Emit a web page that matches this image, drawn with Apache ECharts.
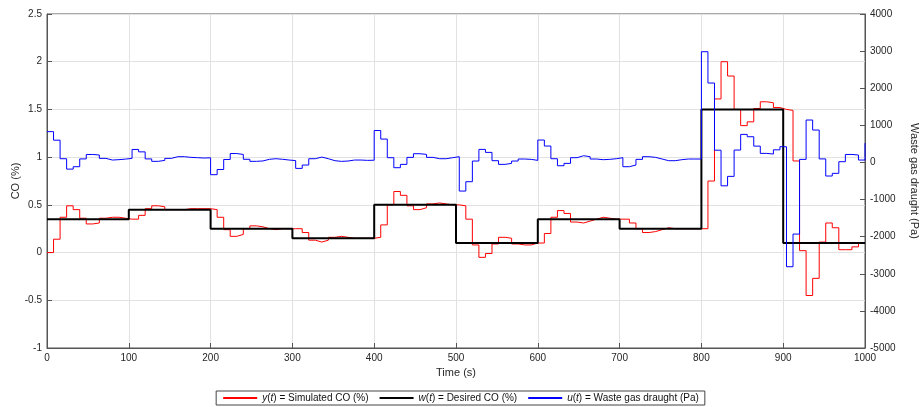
<!DOCTYPE html>
<html>
<head>
<meta charset="utf-8">
<script src="https://cdn.jsdelivr.net/npm/echarts@6/dist/echarts.min.js"></script>
<style>
  body { margin: 0; background: #fff; }
  #chart { width: 921px; height: 407px; }
</style>
</head>
<body>
<div id="chart"></div>
<script>
// sample time of the simulation (s)
var sampleTime = 8

// y(t) simulated CO (%), one value per sample, last one at t = 1000
var coSim = [
  0.00, 0.14, 0.37, 0.49, 0.45, 0.36, 0.30, 0.31, 0.36, 0.37, 0.37, 0.36, 0.35, 0.35, 0.39, 0.46, 0.49, 0.48, 0.45, 0.45, 0.45, 0.46, 0.46, 0.46, 0.46,
  0.45, 0.37, 0.24, 0.17, 0.19, 0.25, 0.28, 0.27, 0.25, 0.24, 0.25, 0.25, 0.25, 0.25, 0.21, 0.13, 0.11, 0.13, 0.16, 0.17, 0.16, 0.15, 0.15, 0.15, 0.15,
  0.16, 0.29, 0.50, 0.64, 0.60, 0.49, 0.45, 0.47, 0.51, 0.52, 0.51, 0.50, 0.50, 0.49, 0.35, 0.08, -0.05, -0.01, 0.09, 0.16, 0.15, 0.09, 0.08, 0.08, 0.10,
  0.10, 0.20, 0.37, 0.44, 0.41, 0.32, 0.31, 0.33, 0.35, 0.37, 0.36, 0.35, 0.35, 0.35, 0.31, 0.25, 0.21, 0.22, 0.24, 0.26, 0.25, 0.25, 0.25, 0.25, 0.25,
  0.25, 0.75, 1.61, 2.00, 1.85, 1.50, 1.33, 1.37, 1.51, 1.58, 1.57, 1.52, 1.50, 1.49, 0.96, 0.02, -0.45, -0.27, 0.11, 0.31, 0.26, 0.03, 0.03, 0.06, 0.10,
  0.10
]

// u(t) waste gas draught (Pa)
var draught = [
  830, 600, 100, -180, -115, 95, 215, 200, 110, 65, 75, 90, 110, 350, 285, 95, 30, 55, 110, 155, 155, 137, 128, 119, 125,
  -330, -190, 80, 240, 215, 85, 30, 40, 85, 100, 85, 65, 50, -160, -70, 100, 145, 100, 47, 29, 38, 65, 65, 56, 60,
  860, 630, 128, -142, -52, 137, 235, 217, 137, 100, 100, 128, 155, -771, -519, 38, 352, 271, 47, -52, -25, 38, 92, 83, 56,
  604, 442, 100, -89, -25, 128, 181, 155, 92, 74, 83, 100, 128, -115, -70, 83, 155, 137, 92, 47, 47, 74, 92, 92, 92,
  2984, 2140, 330, -630, -375, 334, 756, 693, 440, 244, 226, 340, 424, -2810, -1930, 83, 1143, 873, 95, -366, -294, 20, 215, 200, 65,
  520
]

// w(t) desired CO (%)
var setTimes = [0, 100, 200, 300, 400, 500, 600, 700, 800, 900, 1000]
var setValues = [0.35, 0.45, 0.25, 0.15, 0.5, 0.1, 0.35, 0.25, 1.5, 0.1, 0.1]

var names = {
  y: 'y(t) = Simulated CO (%)',
  w: 'w(t) = Desired CO (%)',
  u: 'u(t) = Waste gas draught (Pa)'
}

function pairs(vals) {
  return vals.map(function (v, i) { return [i * sampleTime, v] })
}

var font = '"Liberation Sans", Arial, Helvetica, sans-serif'
var axisColor = '#555'
var labelColor = '#262626'

var chart = echarts.init(document.getElementById('chart'))
chart.setOption({
  animation: false,
  textStyle: { fontFamily: font },
  grid: {
    left: 47, right: 56, top: 14, bottom: 59,
    outerBoundsMode: 'none',
    containLabel: false,
    show: true, borderColor: axisColor, borderWidth: 1
  },
  legend: {
    bottom: 2,
    left: 'center',
    data: [names.y, names.w, names.u],
    itemWidth: 34,
    itemHeight: 8,
    itemGap: 10,
    padding: [2, 6],
    borderColor: '#444',
    borderWidth: 1,
    backgroundColor: '#fff',
    itemStyle: { color: 'transparent', borderWidth: 0 },
    formatter: function (n) {
      if (n === names.y) return '{i|y}({i|t}) = Simulated CO (%)'
      if (n === names.w) return '{i|w}({i|t}) = Desired CO (%)'
      return '{i|u}({i|t}) = Waste gas draught (Pa)'
    },
    textStyle: {
      fontSize: 10,
      color: '#111',
      fontFamily: font,
      rich: { i: { fontStyle: 'italic', fontSize: 10, color: '#111', fontFamily: font } }
    }
  },
  xAxis: {
    type: 'value',
    min: 0, max: 1000, interval: 100,
    name: 'Time (s)',
    nameLocation: 'middle',
    nameGap: 19,
    nameMoveOverlap: false,
    nameTextStyle: { fontSize: 11, color: labelColor },
    axisLine: { onZero: false, lineStyle: { color: axisColor } },
    axisTick: { inside: true, length: 5, lineStyle: { color: axisColor } },
    axisLabel: {
      fontSize: 10, color: labelColor, margin: 5,
      formatter: function (v) { return String(v) }
    },
    splitLine: { lineStyle: { color: '#e2e2e2' } }
  },
  yAxis: [
    {
      type: 'value',
      min: -1, max: 2.5, interval: 0.5,
      name: 'CO (%)',
      nameLocation: 'middle',
      nameGap: 26,
      nameMoveOverlap: false,
      nameTextStyle: { fontSize: 11, color: labelColor },
      axisLine: { show: true, onZero: false, lineStyle: { color: axisColor } },
      axisTick: { show: true, inside: true, length: 5, lineStyle: { color: axisColor } },
      axisLabel: { fontSize: 10, color: labelColor, margin: 5 },
      splitLine: { lineStyle: { color: '#e2e2e2' } }
    },
    {
      type: 'value',
      position: 'right',
      min: -5000, max: 4000, interval: 1000,
      name: 'Waste gas draught (Pa)',
      nameLocation: 'middle',
      nameRotate: -90,
      nameGap: 44,
      nameMoveOverlap: false,
      nameTextStyle: { fontSize: 11, color: labelColor },
      axisLine: { show: true, onZero: false, lineStyle: { color: axisColor } },
      axisTick: { show: true, inside: true, length: 5, lineStyle: { color: axisColor } },
      axisLabel: {
        fontSize: 10, color: labelColor, margin: 5,
        formatter: function (v) { return String(v) }
      },
      splitLine: { show: false }
    }
  ],
  series: [
    {
      name: names.y,
      type: 'line',
      step: 'end',
      yAxisIndex: 0,
      showSymbol: false,
      symbol: 'none',
      color: '#ff0000',
      lineStyle: { width: 1, color: '#ff0000' },
      data: pairs(coSim),
      z: 2
    },
    {
      name: names.w,
      type: 'line',
      step: 'end',
      yAxisIndex: 0,
      showSymbol: false,
      symbol: 'none',
      color: '#000',
      lineStyle: { width: 2, color: '#000' },
      data: setTimes.map(function (t, i) { return [t, setValues[i]] }),
      z: 3
    },
    {
      name: names.u,
      type: 'line',
      step: 'end',
      yAxisIndex: 1,
      showSymbol: false,
      symbol: 'none',
      color: '#0000ff',
      lineStyle: { width: 1, color: '#0000ff' },
      data: pairs(draught),
      z: 4
    }
  ]
})
</script>
</body>
</html>
